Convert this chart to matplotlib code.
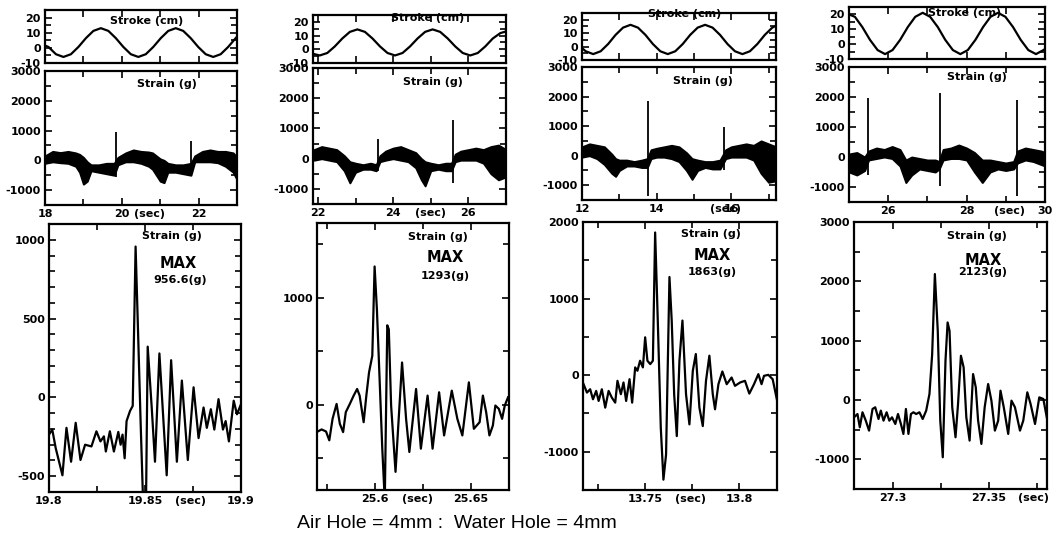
import numpy as np
import matplotlib.pyplot as plt
from matplotlib.ticker import MultipleLocator

plt.rcParams['font.family'] = ['DejaVu Sans']
plt.rcParams['font.weight'] = 'bold'
plt.rcParams['axes.unicode_minus'] = False

W, H = 1057, 535

# ---------------- column 1 (18-23 s) ----------------
stroke_t1 = [18.0, 18.09, 18.285, 18.48, 18.675, 18.87, 19.065, 19.26, 19.455, 19.65,
             19.845, 20.04, 20.235, 20.43, 20.625, 20.82, 21.015, 21.21, 21.405, 21.6,
             21.795, 21.99, 22.185, 22.38, 22.575, 22.77, 22.965, 23.0]
stroke_v1 = [1.5, 0.6, -4.2, -6.0, -4.2, 0.6, 6.4, 11.2, 13.0, 11.2,
             6.4, 0.6, -4.2, -6.0, -4.2, 0.6, 6.4, 11.2, 13.0, 11.2,
             6.4, 0.6, -4.2, -6.0, -4.2, 0.6, 6.4, 7.4]
band_t1 = [18.0, 18.2, 18.4, 18.6, 18.8, 18.9, 19.0, 19.1, 19.2, 19.4, 19.6, 19.8, 19.9, 20.1,
           20.3, 20.5, 20.7, 20.8, 20.9, 21.0, 21.1, 21.2, 21.4, 21.6, 21.8, 21.9, 22.1, 22.3,
           22.5, 22.7, 22.9, 23.0]
band_hi1 = [150, 300, 260, 300, 250, 200, 100, -50, -150, -150, -100, -100, 100, 250,
            350, 300, 280, 250, 150, 50, 0, -100, -150, -150, -100, 150, 300, 350,
            300, 300, 250, 100]
band_lo1 = [-100, -50, -80, -100, -200, -400, -800, -700, -350, -400, -450, -500, -150, -50,
            -50, -100, -200, -300, -500, -700, -750, -400, -400, -450, -500, -50, -50, -50,
            -80, -200, -400, -650]
spike_t1 = [19.845, 21.80]
spike_hi1 = [960, 650]
spike_lo1 = [-550, -500]
zoom_t1 = [19.8000, 19.8017, 19.8035, 19.8070, 19.8091, 19.8115, 19.8139, 19.8164, 19.8188,
           19.8221, 19.8247, 19.8268, 19.8286, 19.8296, 19.8317, 19.8338, 19.8361, 19.8373,
           19.8383, 19.8394, 19.8404, 19.8422, 19.8436, 19.8451, 19.8462, 19.8477, 19.8491,
           19.8505, 19.8514, 19.8535, 19.8552, 19.8575, 19.8613, 19.8636, 19.8666, 19.8692,
           19.8723, 19.8753, 19.8779, 19.8805, 19.8822, 19.8843, 19.8861, 19.8883, 19.8906,
           19.8920, 19.8937, 19.8962, 19.8979, 19.9000]
zoom_v1 = [-236, -204, -322, -494, -193, -408, -161, -397, -300,
           -311, -215, -279, -247, -343, -215, -343, -219, -300,
           -236, -386, -150, -86, -54, 957, 494, -150, -700,
           -700, 322, -64, -408, 279, -494, 236, -408, 107,
           -397, 64, -258, -64, -193, -75, -204, -11, -204,
           -150, -279, -21, -107, -43]

# ---------------- column 2 (22-27 s) ----------------
stroke_t2 = [21.9, 22.05, 22.25, 22.45, 22.65, 22.85, 23.05, 23.25, 23.45, 23.65, 23.85,
             24.05, 24.25, 24.45, 24.65, 24.85, 25.05, 25.25, 25.45, 25.65, 25.85, 26.05,
             26.25, 26.45, 26.65, 26.85, 27.0]
stroke_v2 = [-3.5, -4.5, -2.7, 2.1, 7.9, 12.7, 14.5, 12.7, 7.9, 2.1, -2.7,
             -4.5, -2.7, 2.1, 7.9, 12.7, 14.5, 12.7, 7.9, 2.1, -2.7, -4.5,
             -2.7, 2.1, 7.9, 11.8, 13.0]
band_t2 = [21.9, 22.1, 22.3, 22.5, 22.7, 22.85, 23.0, 23.2, 23.4, 23.55, 23.65, 23.8, 24.0,
           24.2, 24.4, 24.6, 24.75, 24.85, 25.0, 25.2, 25.4, 25.55, 25.65, 25.8, 26.0, 26.2,
           26.4, 26.6, 26.8, 27.0]
band_hi2 = [300, 400, 350, 300, 100, -100, -150, -200, -150, -200, 100, 250, 350,
            400, 300, 200, 0, -100, -150, -200, -150, -150, 150, 250, 300, 350,
            300, 400, 450, 300]
band_lo2 = [-50, 0, -50, -100, -400, -800, -450, -350, -350, -400, -100, -50, 0,
            -50, -100, -300, -700, -900, -400, -350, -400, -400, -100, -50, -50, -50,
            -150, -500, -700, -600]
spike_t2 = [23.6, 25.598]
spike_hi2 = [640, 1293]
spike_lo2 = [-400, -800]
zoom_t2 = [25.5698, 25.5724, 25.5747, 25.5764, 25.5781, 25.5802, 25.5819, 25.5836, 25.5850,
           25.5871, 25.5891, 25.5909, 25.5922, 25.5943, 25.5957, 25.5971, 25.5988, 25.6000,
           25.6012, 25.6026, 25.6040, 25.6053, 25.6066, 25.6074, 25.6086, 25.6109, 25.6143,
           25.6164, 25.6181, 25.6216, 25.6241, 25.6276, 25.6302, 25.6336, 25.6362, 25.6402,
           25.6431, 25.6457, 25.6491, 25.6517, 25.6547, 25.6564, 25.6581, 25.6598, 25.6616,
           25.6629, 25.6647, 25.6664, 25.6678, 25.6695]
zoom_v2 = [-258, -233, -252, -335, -134, 6, -180, -258, -71,
           6, 84, 146, 84, -165, 84, 301, 457, 1293,
           891, 239, -413, -900, 742, 705, -9, -630, 394,
           -134, -444, 146, -413, 84, -413, 115, -289, 130,
           -134, -289, 208, -227, -165, 84, -71, -289, -196,
           -9, -40, -134, -9, 68]

# ---------------- column 3 (12-17 s) ----------------
stroke_t3 = [12.0, 12.1, 12.3, 12.5, 12.7, 12.9, 13.1, 13.3, 13.5, 13.7, 13.9, 14.1, 14.3,
             14.5, 14.7, 14.9, 15.1, 15.3, 15.5, 15.7, 15.9, 16.1, 16.3, 16.5, 16.7, 16.9,
             17.1, 17.2]
stroke_v3 = [-1.1, -3.5, -5.6, -3.5, 1.9, 8.7, 14.1, 16.2, 14.1, 8.7, 1.9, -3.5, -5.6,
             -3.5, 1.9, 8.7, 14.1, 16.2, 14.1, 8.7, 1.9, -3.5, -5.6, -3.5, 1.9, 8.7,
             14.1, 15.5]
band_t3 = [12.0, 12.2, 12.4, 12.6, 12.8, 12.9, 13.0, 13.2, 13.4, 13.6, 13.75, 13.85, 14.0,
           14.2, 14.4, 14.6, 14.8, 14.95, 15.1, 15.3, 15.5, 15.7, 15.85, 16.0, 16.2, 16.4,
           16.6, 16.8, 17.0, 17.2]
band_hi3 = [300, 400, 350, 300, 50, -100, -150, -150, -200, -150, -100, 200, 250,
            300, 350, 300, 100, -100, -150, -200, -200, -150, 200, 300, 350, 400,
            350, 500, 400, 300]
band_lo3 = [-50, 0, -100, -300, -600, -700, -500, -350, -350, -400, -400, -100, -50,
            -50, -100, -200, -500, -800, -500, -400, -450, -450, -100, -50, -50, -50,
            -150, -600, -900, -850]
spike_t3 = [13.757, 15.8]
spike_hi3 = [1863, 980]
spike_lo3 = [-1350, -500]
zoom_t3 = [13.7173, 13.7191, 13.7208, 13.7223, 13.7240, 13.7253, 13.7270, 13.7288, 13.7306,
           13.7323, 13.7341, 13.7353, 13.7371, 13.7385, 13.7399, 13.7417, 13.7431, 13.7447,
           13.7459, 13.7473, 13.7488, 13.7500, 13.7512, 13.7527, 13.7541, 13.7553, 13.7567,
           13.7583, 13.7597, 13.7611, 13.7629, 13.7641, 13.7654, 13.7668, 13.7682, 13.7698,
           13.7717, 13.7735, 13.7753, 13.7769, 13.7788, 13.7806, 13.7823, 13.7841, 13.7859,
           13.7871, 13.7889, 13.7910, 13.7933, 13.7959, 13.7977, 13.8004, 13.8030, 13.8053,
           13.8078, 13.8101, 13.8118, 13.8131, 13.8154, 13.8177, 13.8201]
zoom_v3 = [-118, -228, -184, -315, -206, -337, -184, -424, -206,
           -293, -359, -74, -249, -96, -337, -53, -359, 101,
           57, 188, 101, 494, 188, 144, 188, 1863, 713,
           -687, -1365, -1037, 1282, 713, -249, -796, 188, 713,
           -249, -643, 57, 276, -424, -665, -74, 254, -249,
           -446, -118, 48, -118, -31, -140, -96, -74, -241,
           -118, 13, -118, -9, 4, -53, -337]

# ---------------- column 4 (25-30 s) ----------------
stroke_t4 = [25.0, 25.15, 25.34, 25.535, 25.73, 25.92, 26.11, 26.305, 26.5, 26.69, 26.88,
             27.07, 27.265, 27.455, 27.65, 27.84, 28.03, 28.225, 28.42, 28.61, 28.8, 28.99,
             29.185, 29.38, 29.575, 29.77, 29.96, 30.0]
stroke_v4 = [20.0, 18.4, 11.5, 2.9, -4.0, -6.7, -4.0, 2.9, 11.5, 18.4, 21.1,
             18.4, 11.5, 2.9, -4.0, -6.7, -4.0, 2.9, 11.5, 18.4, 21.1, 18.4,
             11.5, 2.9, -4.0, -6.7, -4.0, -3.3]
band_t4 = [25.0, 25.2, 25.4, 25.5, 25.7, 25.9, 26.1, 26.3, 26.45, 26.6, 26.8, 27.0, 27.2,
           27.3, 27.4, 27.6, 27.8, 28.0, 28.2, 28.4, 28.6, 28.8, 29.0, 29.2, 29.3, 29.5,
           29.7, 29.9, 30.0]
band_hi4 = [100, 150, 0, 200, 300, 250, 350, 250, -100, 0, -50, -100, -100,
            -150, 250, 300, 400, 300, 150, -100, -100, -150, -200, -150, 200, 300,
            250, 200, 150]
band_lo4 = [-500, -600, -450, -100, -50, 0, -50, -300, -850, -600, -400, -450, -500,
            -400, -100, -50, -50, -100, -500, -850, -500, -400, -450, -400, -200, -100,
            -150, -250, -300]
spike_t4 = [25.48, 27.322, 29.28]
spike_hi4 = [1960, 2123, 1900]
spike_lo4 = [-600, -950, -1300]
zoom_t4 = [27.2800, 27.2818, 27.2830, 27.2844, 27.2861, 27.2878, 27.2896, 27.2910, 27.2927,
           27.2939, 27.2953, 27.2969, 27.2983, 27.2997, 27.3014, 27.3028, 27.3043, 27.3056,
           27.3069, 27.3082, 27.3095, 27.3108, 27.3122, 27.3139, 27.3156, 27.3174, 27.3191,
           27.3205, 27.3219, 27.3234, 27.3247, 27.3260, 27.3274, 27.3285, 27.3295, 27.3309,
           27.3326, 27.3339, 27.3354, 27.3368, 27.3382, 27.3399, 27.3417, 27.3431, 27.3443,
           27.3460, 27.3477, 27.3495, 27.3512, 27.3530, 27.3547, 27.3559, 27.3576, 27.3599,
           27.3616, 27.3634, 27.3660, 27.3677, 27.3698, 27.3715, 27.3738, 27.3760, 27.3781,
           27.3802]
zoom_v4 = [-292, -236, -460, -207, -348, -516, -151, -123, -320,
           -179, -348, -207, -348, -292, -404, -236, -404, -572,
           -151, -572, -236, -207, -236, -207, -320, -179, 101,
           774, 2123, 1166, -348, -965, 662, 1307, 1166, -123,
           -628, -67, 746, 550, -292, -684, 437, 213, -348,
           -740, -123, 269, -11, -516, -348, 157, -123, -572,
           -11, -123, -516, -348, 129, -67, -404, 45, 17,
           -348]

max_labels = ["956.6(g)", "1293(g)", "1863(g)", "2123(g)"]

# layout (pixel boxes x0, y0, x1, y1) and axis settings per column
cols = [
    dict(st=(stroke_t1, stroke_v1), band=(band_t1, band_hi1, band_lo1),
         spk=(spike_t1, spike_hi1, spike_lo1), zm=(zoom_t1, zoom_v1),
         b_stroke=(45, 10, 237, 63), b_strain=(45, 71, 237, 205), b_zoom=(49, 224, 241, 492),
         xlim=(18, 23), xlab=[18, 20, 22], sec=20.72,
         zxlim=(19.8, 19.9), zxlab=[19.8, 19.85, 19.9], zsec=19.8735,
         zylim=(-600, 1100), zylab=[-500, 0, 500, 1000], zyminor=100,
         t_stroke=(147, 21), t_strain=(167, 84), t_zoom=(172, 236), t_max=(178, 263), t_val=(180, 280)),
    dict(st=(stroke_t2, stroke_v2), band=(band_t2, band_hi2, band_lo2),
         spk=(spike_t2, spike_hi2, spike_lo2), zm=(zoom_t2, zoom_v2),
         b_stroke=(313, 15, 506, 63), b_strain=(313, 68, 506, 204), b_zoom=(317, 223, 509, 490),
         xlim=(21.87, 27.0), xlab=[22, 24, 26], sec=25.0,
         zxlim=(25.57, 25.67), zxlab=[25.6, 25.65], zsec=25.6224,
         zylim=(-800, 1700), zylab=[0, 1000], zyminor=500,
         t_stroke=(428, 18), t_strain=(433, 82), t_zoom=(438, 237), t_max=(445, 258), t_val=(445, 276)),
    dict(st=(stroke_t3, stroke_v3), band=(band_t3, band_hi3, band_lo3),
         spk=(spike_t3, spike_hi3, spike_lo3), zm=(zoom_t3, zoom_v3),
         b_stroke=(582, 13, 776, 60), b_strain=(582, 67, 776, 200), b_zoom=(583, 222, 777, 490),
         xlim=(12, 17.2), xlab=[12, 14, 16], sec=15.85,
         zxlim=(13.717, 13.82), zxlab=[13.75, 13.8], zsec=13.774,
         zylim=(-1500, 2000), zylab=[-1000, 0, 1000, 2000], zyminor=500,
         t_stroke=(685, 14), t_strain=(703, 81), t_zoom=(711, 234), t_max=(712, 256), t_val=(712, 272)),
    dict(st=(stroke_t4, stroke_v4), band=(band_t4, band_hi4, band_lo4),
         spk=(spike_t4, spike_hi4, spike_lo4), zm=(zoom_t4, zoom_v4),
         b_stroke=(849, 7, 1045, 59), b_strain=(849, 67, 1045, 202), b_zoom=(854, 222, 1047, 489),
         xlim=(25, 30), xlab=[26, 28, 30], sec=29.1,
         zxlim=(27.28, 27.38), zxlab=[27.3, 27.35], zsec=27.373,
         zylim=(-1500, 3000), zylab=[-1000, 0, 1000, 2000, 3000], zyminor=500,
         t_stroke=(965, 13), t_strain=(977, 77), t_zoom=(977, 236), t_max=(983, 260), t_val=(983, 272)),
]


def box(b):
    x0, y0, x1, y1 = b
    return [x0 / W, 1 - y1 / H, (x1 - x0) / W, (y1 - y0) / H]


def style(ax):
    for s in ax.spines.values():
        s.set_linewidth(1.6)
    ax.tick_params(which='both', direction='in', top=True, right=True, width=1.2,
                   labelsize=8, pad=3)
    ax.tick_params(which='major', length=5)
    ax.tick_params(which='minor', length=4)


def ftext(xy, s, size=8):
    fig.text(xy[0] / W, 1 - xy[1] / H, s, ha='center', va='center', fontsize=size,
             fontweight='bold')


def sec_label(ax, x):
    ax.annotate('(sec)', xy=(x, 0), xycoords=('data', 'axes fraction'), xytext=(0, -3),
                textcoords='offset points', ha='center', va='top', fontsize=8,
                fontweight='bold', annotation_clip=False)


fig = plt.figure(figsize=(W / 100, H / 100), dpi=100)

for c in cols:
    # stroke
    ax = fig.add_axes(box(c['b_stroke']))
    ax.plot(*c['st'], color='black', lw=1.6)
    ax.set_xlim(c['xlim'])
    ax.set_ylim(-10, 25)
    ax.set_yticks([-10, 0, 10, 20])
    ax.yaxis.set_minor_locator(MultipleLocator(5))
    ax.xaxis.set_major_locator(MultipleLocator(1))
    ax.set_xticklabels([])
    style(ax)
    ftext(c['t_stroke'], 'Stroke (cm)')

    # strain, long record
    ax = fig.add_axes(box(c['b_strain']))
    bt, bh, bl = c['band']
    ax.fill_between(bt, bl, bh, color='black', lw=1.4, edgecolor='black')
    st, sh, sl = c['spk']
    ax.vlines(st, sl, sh, color='black', lw=1.3)
    ax.set_xlim(c['xlim'])
    ax.set_ylim(-1500, 3000)
    ax.set_yticks([-1000, 0, 1000, 2000, 3000])
    ax.yaxis.set_minor_locator(MultipleLocator(500))
    ax.set_xticks(c['xlab'], [str(v) for v in c['xlab']])
    ax.xaxis.set_minor_locator(MultipleLocator(1))
    style(ax)
    sec_label(ax, c['sec'])
    ftext(c['t_strain'], 'Strain (g)')

    # strain, zoom on the peak
    ax = fig.add_axes(box(c['b_zoom']))
    ax.plot(*c['zm'], color='black', lw=1.6)
    ax.set_xlim(c['zxlim'])
    ax.set_ylim(c['zylim'])
    ax.set_yticks(c['zylab'])
    ax.yaxis.set_minor_locator(MultipleLocator(c['zyminor']))
    ax.set_xticks(c['zxlab'], [f'{v:g}' for v in c['zxlab']])
    ax.xaxis.set_minor_locator(MultipleLocator(0.025))
    style(ax)
    sec_label(ax, c['zsec'])
    ftext(c['t_zoom'], 'Strain (g)')
    ftext(c['t_max'], 'MAX', 10.5)

for c, lab in zip(cols, max_labels):
    ftext(c['t_val'], lab)

fig.text(457 / W, 1 - 524 / H, 'Air Hole = 4mm :  Water Hole = 4mm', ha='center',
         va='center', fontsize=14, fontweight='normal', family=['Liberation Sans'])

fig.savefig('out.png', dpi=100)
